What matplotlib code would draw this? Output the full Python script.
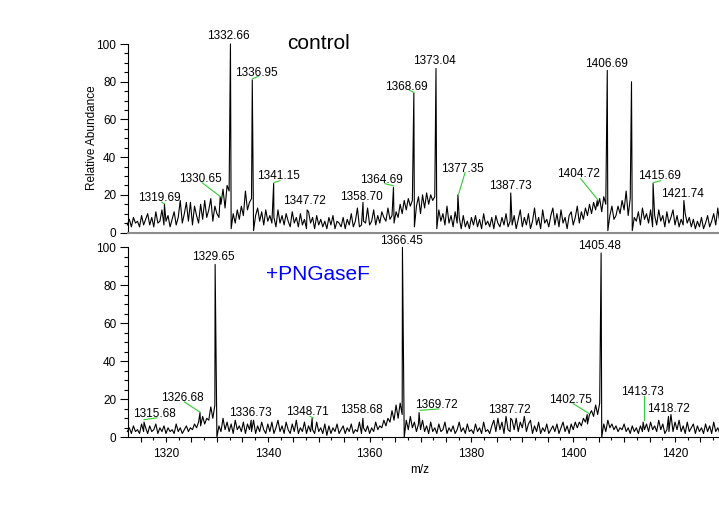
import numpy as np
import matplotlib.pyplot as plt
from matplotlib.ticker import MultipleLocator, FuncFormatter

plt.rcParams['font.family'] = ['Liberation Sans', 'DejaVu Sans']

# profile trace, relative abundance (%) every 0.4 m/z starting at 1312.4
mz_start = 1312.4
mz_step = 0.4

control_noise = [
    4, 7, 3, 8, 5, 6, 3, 9, 4, 7,
    10, 4, 8, 3, 11, 5, 6, 12, 4, 6,
    9, 3, 7, 11, 4, 8, 17, 5, 10, 16,
    6, 16, 4, 14, 9, 5, 15, 7, 17, 8,
    12, 18, 6, 14, 10, 8, 15, 23, 13, 25,
    22, 2, 10, 5, 12, 7, 14, 9, 22, 12,
    16, 18, 1, 9, 13, 6, 11, 4, 12, 6,
    9, 5, 8, 3, 12, 5, 9, 4, 10, 6,
    3, 11, 5, 8, 3, 10, 4, 7, 2, 11,
    5, 8, 2, 9, 4, 7, 3, 6, 2, 8,
    4, 9, 2, 6, 5, 3, 8, 2, 7, 4,
    10, 3, 6, 13, 3, 4, 6, 5, 13, 4,
    6, 12, 4, 9, 5, 11, 8, 6, 13, 7,
    9, 5, 11, 8, 15, 10, 17, 12, 18, 14,
    17, 3, 14, 19, 10, 20, 13, 21, 15, 20,
    17, 19, 2, 12, 6, 10, 4, 14, 5, 9,
    3, 11, 5, 8, 2, 9, 3, 6, 2, 8,
    4, 9, 3, 7, 2, 10, 4, 6, 3, 8,
    2, 9, 5, 3, 8, 4, 10, 3, 6, 4,
    9, 2, 7, 12, 3, 8, 4, 10, 2, 6,
    13, 4, 8, 2, 12, 5, 7, 3, 9, 13,
    4, 10, 3, 12, 5, 8, 2, 9, 11, 4,
    8, 14, 5, 11, 7, 13, 9, 15, 10, 16,
    12, 14, 18, 11, 19, 15, 1, 9, 14, 7,
    9, 14, 10, 17, 12, 22, 9, 18, 1, 8,
    6, 11, 4, 13, 7, 10, 5, 12, 3, 9,
    4, 12, 6, 9, 3, 11, 5, 8, 12, 4,
    9, 3, 7, 4, 10, 5, 8, 3, 7, 2,
    6, 3, 8, 2, 5, 9, 3, 6, 10, 4,
    13, 5, 8,
]
control_peak_mz = [1319.69, 1330.65, 1332.66, 1336.95, 1341.15, 1347.72, 1358.70,
                   1364.69, 1368.69, 1373.04, 1377.35, 1387.73, 1404.72, 1406.69,
                   1411.45, 1415.69, 1421.74]
control_peak_int = [15, 19, 100, 81, 26, 12, 16, 24, 74, 87, 20, 21, 17, 86, 80, 26, 17]

pngase_noise = [
    3, 5, 2, 6, 3, 4, 2, 7, 3, 5,
    2, 6, 3, 4, 7, 2, 5, 3, 6, 2,
    5, 3, 4, 2, 7, 3, 5, 2, 4, 6,
    3, 5, 4, 7, 5, 8, 6, 11, 7, 10,
    9, 16, 10, 17, 0, 6, 3, 10, 4, 8,
    3, 7, 2, 9, 4, 6, 3, 8, 2, 7,
    4, 3, 9, 2, 6, 3, 8, 4, 2, 7,
    3, 8, 2, 5, 9, 3, 6, 2, 8, 4,
    2, 7, 3, 9, 2, 5, 3, 8, 2, 6,
    3, 4, 2, 8, 3, 5, 2, 7, 1, 6,
    2, 5, 3, 7, 2, 4, 6, 2, 5, 3,
    7, 2, 4, 3, 8, 2, 5, 3, 6, 2,
    5, 3, 8, 4, 6, 5, 9, 6, 10, 8,
    14, 9, 17, 10, 18, 12, 0, 9, 4, 11,
    5, 8, 3, 7, 4, 9, 3, 6, 2, 8,
    3, 5, 2, 7, 3, 4, 8, 2, 5, 3,
    6, 2, 4, 8, 3, 5, 2, 7, 3, 4,
    2, 7, 3, 5, 2, 8, 3, 4, 2, 6,
    9, 3, 10, 4, 8, 2, 11, 4, 3, 9,
    4, 10, 3, 8, 5, 11, 3, 7, 9, 2,
    6, 3, 8, 2, 5, 3, 7, 2, 4, 6,
    3, 7, 2, 5, 8, 3, 6, 2, 7, 4,
    8, 5, 8, 6, 10, 8, 7, 12, 14, 11,
    17, 12, 18, 0, 7, 3, 9, 5, 7, 4,
    6, 3, 5, 4, 7, 3, 5, 2, 6, 3,
    5, 2, 6, 3, 4, 7, 3, 8, 4, 6,
    3, 9, 4, 7, 2, 4, 3, 12, 3, 8,
    4, 9, 3, 6, 2, 8, 3, 5, 7, 2,
    6, 3, 5, 2, 7, 3, 6, 2, 8, 3,
    5, 2, 6,
]
pngase_peak_mz = [1315.68, 1326.68, 1329.65, 1336.73, 1348.71, 1358.68, 1366.45,
                  1369.72, 1387.72, 1402.75, 1405.48, 1413.73, 1418.72]
pngase_peak_int = [8, 13, 91, 9, 10, 10, 100, 13, 10, 12, 97, 8, 11]

# label placement: text -> (x, y, leader line or None)
control_labels = {
    "1319.69": (1318.6, 18.3, (1319.15, 16.1, 1319.67, 15.3)),
    "1330.65": (1326.7, 28.2, (1327.1, 26.4, 1330.7, 19.0)),
    "1332.66": (1332.2, 104.3, None),
    "1336.95": (1337.7, 84.7, (1336.95, 81.5, 1338.1, 82.8)),
    "1341.15": (1342.0, 30.0, (1341.2, 26.5, 1342.4, 27.5)),
    "1347.72": (1347.1, 16.5, None),
    "1358.70": (1358.3, 19.1, None),
    "1364.69": (1362.4, 27.7, (1363.0, 25.9, 1364.66, 24.8)),
    "1368.69": (1367.15, 77.3, (1367.8, 75.5, 1368.7, 74.3)),
    "1373.04": (1372.65, 91.1, None),
    "1377.35": (1378.15, 33.9, (1378.75, 31.8, 1377.5, 20.5)),
    "1387.73": (1387.6, 24.6, None),
    "1404.72": (1400.95, 31.2, (1401.45, 28.6, 1404.8, 17.5)),
    "1406.69": (1406.45, 89.4, None),
    "1415.69": (1416.85, 30.0, (1415.75, 26.5, 1417.2, 27.5)),
    "1421.74": (1421.55, 20.6, None),
}
pngase_labels = {
    "1315.68": (1317.65, 12.2, (1315.7, 9.3, 1318.2, 10.2)),
    "1326.68": (1323.15, 20.5, (1323.6, 18.6, 1326.7, 13.2)),
    "1329.65": (1329.25, 94.8, None),
    "1336.73": (1336.5, 13.0, None),
    "1348.71": (1347.7, 13.3, (1348.3, 11.0, 1348.9, 10.2)),
    "1358.68": (1358.3, 14.2, None),
    "1366.45": (1366.2, 103.2, None),
    "1369.72": (1373.05, 16.8, (1369.9, 14.2, 1373.6, 14.9)),
    "1387.72": (1387.4, 14.2, None),
    "1402.75": (1399.4, 19.5, (1400.0, 17.7, 1403.1, 12.5)),
    "1405.48": (1405.25, 100.5, None),
    "1413.73": (1413.5, 23.8, (1413.97, 21.6, 1413.97, 8.9)),
    "1418.72": (1418.65, 14.7, None),
}


def trace(noise, peak_mz, peak_int):
    grid = mz_start + mz_step * np.arange(len(noise))
    x = np.concatenate([grid, peak_mz])
    y = np.concatenate([noise, peak_int])
    order = np.argsort(x)
    return x[order], y[order]


fig = plt.figure(figsize=(7.19, 5.07), dpi=100)
ax1 = fig.add_axes([0.178, 0.5414, 0.822, 0.3718])
ax2 = fig.add_axes([0.178, 0.1375, 0.822, 0.3747])

panels = [(ax1, control_noise, control_peak_mz, control_peak_int, control_labels),
          (ax2, pngase_noise, pngase_peak_mz, pngase_peak_int, pngase_labels)]

for ax, noise, pmz, pint, labels in panels:
    x, y = trace(noise, pmz, pint)
    ax.plot(x, y, color='black', lw=0.8, clip_on=False)
    ax.set_xlim(1312.53, 1428.64)
    ax.set_ylim(0, 100)
    ax.spines['top'].set_visible(False)
    ax.spines['right'].set_visible(False)
    ax.yaxis.set_major_locator(MultipleLocator(20))
    ax.yaxis.set_minor_locator(MultipleLocator(5))
    ax.tick_params(axis='y', which='major', length=6, width=0.8, labelsize=8.5, pad=2.5)
    ax.tick_params(axis='y', which='minor', length=2.7, width=0.8)
    for txt, (lx, ly, lead) in labels.items():
        ax.text(lx, ly, txt, ha='center', va='center', fontsize=8.5, clip_on=False)
        if lead is not None:
            ax.plot([lead[0], lead[2]], [lead[1], lead[3]], color='#33cc33', lw=0.8, clip_on=False)

ax1.tick_params(axis='x', which='both', bottom=False, labelbottom=False)
ax1.spines['bottom'].set_color('#8c8c8c')
ax1.spines['bottom'].set_linewidth(1.5)
ax1.text(1350.0, 100.5, "control", ha='center', va='center', fontsize=15)

ax2.xaxis.set_major_locator(MultipleLocator(5))
ax2.xaxis.set_minor_locator(MultipleLocator(2.5))
ax2.xaxis.set_major_formatter(FuncFormatter(lambda v, p: f"{v:.0f}" if round(v) % 20 == 0 else ""))
ax2.tick_params(axis='x', which='major', length=3.6, width=0.8, labelsize=8.5, pad=4)
ax2.tick_params(axis='x', which='minor', length=2, width=0.8)
ax2.text(1349.9, 85.5, "+PNGaseF", ha='center', va='center', fontsize=15, color='#0000ff')

fig.text(0.128, 0.728, "Relative Abundance", rotation=90, ha='center', va='center', fontsize=8.5)
fig.text(0.584, 0.073, "m/z", ha='center', va='center', fontsize=8.5)

fig.savefig("out.png", dpi=100)
